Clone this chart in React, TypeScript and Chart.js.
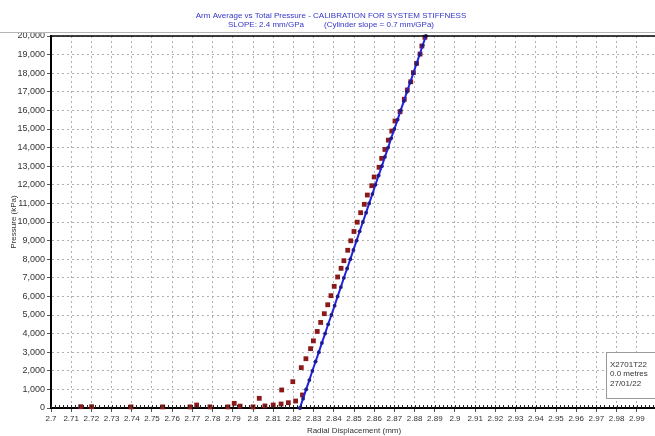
import React, { useEffect, useRef } from "react";
import { Chart, registerables } from "chart.js";

Chart.register(...registerables);

const FONT = "'Liberation Sans', Arial, Helvetica, sans-serif";

const TITLE_LINE_1 = "Arm Average vs Total Pressure - CALIBRATION FOR SYSTEM STIFFNESS";
const TITLE_LINE_2 = "SLOPE: 2.4 mm/GPa         (Cylinder slope = 0.7 mm/GPa)";
const X_TITLE = "Radial Displacement (mm)";
const Y_TITLE = "Pressure (kPa)";
const INFO_LINES = ["X2701T22", "0.0 metres", "27/01/22"];

const X_MIN = 2.7;
const X_MAX = 3.0;
const X_STEP = 0.01;
const Y_MIN = 0;
const Y_MAX = 20000;
const Y_STEP = 1000;

// Measured readings (dark red squares)
const measuredX = [
  2.7147, 2.7201, 2.7396, 2.7553, 2.7688, 2.7721, 2.7787, 2.7876, 2.7907, 2.7936,
  2.8, 2.8031, 2.8059, 2.81, 2.8139, 2.8142, 2.8175, 2.8197, 2.8211, 2.8245,
  2.8239, 2.8262, 2.8285, 2.8299, 2.8318, 2.8335, 2.8353, 2.837, 2.8386, 2.8402,
  2.8419, 2.8436, 2.845, 2.8469, 2.8484, 2.85, 2.8516, 2.8533, 2.8551, 2.8566,
  2.8588, 2.86, 2.8624, 2.8637, 2.8653, 2.867, 2.8687, 2.8703, 2.8728, 2.8749,
  2.8764, 2.8781, 2.8794, 2.881, 2.8827, 2.8836, 2.8851,
];
const measuredP = [
  70, 70, 60, 60, 60, 160, 60, 60, 250, 100,
  60, 520, 110, 160, 215, 970, 285, 1415, 375, 700,
  2170, 2650, 3190, 3610, 4115, 4600, 5070, 5550, 6040, 6540,
  7045, 7510, 7920, 8480, 8990, 9490, 9990, 10500, 10950, 11450,
  11950, 12420, 12940, 13420, 13900, 14400, 14890, 15430, 15930, 16600,
  17100, 17540, 18030, 18530, 19030, 19460, 19930,
];

// Stiffness fit line (blue)
const fitX = [
  2.8232, 2.8248, 2.8263, 2.8279, 2.8294, 2.831, 2.8326, 2.8341, 2.8357, 2.8372,
  2.8388, 2.8404, 2.8419, 2.8435, 2.845, 2.8466, 2.8482, 2.8497, 2.8513, 2.8528,
  2.8544, 2.856, 2.8575, 2.8591, 2.8606, 2.8622, 2.8638, 2.8653, 2.8669, 2.8684,
  2.87, 2.8716, 2.8731, 2.8747, 2.8762, 2.8778, 2.8794, 2.8809, 2.8825, 2.884,
  2.8856,
];
const fitP = [
  0, 500, 1000, 1500, 2000, 2500, 3000, 3500, 4000, 4500,
  5000, 5500, 6000, 6500, 7000, 7500, 8000, 8500, 9000, 9500,
  10000, 10500, 11000, 11500, 12000, 12500, 13000, 13500, 14000, 14500,
  15000, 15500, 16000, 16500, 17000, 17500, 18000, 18500, 19000, 19500,
  20000,
];

const W = 662;
const H = 436;

const decorPlugin = {
  id: "decor",
  afterDraw(chart: any) {
    const { ctx, chartArea: ca, width } = chart;
    const xs = chart.scales.x;
    ctx.save();
    // separator under title
    ctx.strokeStyle = "#b4b4b4";
    ctx.lineWidth = 1;
    ctx.beginPath();
    ctx.moveTo(0, 32.5);
    ctx.lineTo(width, 32.5);
    ctx.stroke();
    // title
    ctx.fillStyle = "#3535c8";
    ctx.font = `8px ${FONT}`;
    ctx.textAlign = "center";
    ctx.textBaseline = "alphabetic";
    ctx.fillText(TITLE_LINE_1, width / 2, 17.5);
    ctx.fillText(TITLE_LINE_2, width / 2, 27);
    // top frame
    ctx.strokeStyle = "#000";
    ctx.lineWidth = 1.5;
    ctx.beginPath();
    ctx.moveTo(ca.left, ca.top);
    ctx.lineTo(ca.right, ca.top);
    ctx.stroke();
    // minor ticks on x axis
    ctx.strokeStyle = "#222";
    ctx.lineWidth = 1;
    ctx.beginPath();
    for (let v = X_MIN; v <= X_MAX + 1e-9; v += 0.002) {
      const px = Math.round(xs.getPixelForValue(v)) + 0.5;
      ctx.moveTo(px, ca.bottom - 3);
      ctx.lineTo(px, ca.bottom);
    }
    ctx.stroke();
    // info box
    const bx = ca.right - 50.5;
    const by = ca.bottom - 55.5;
    const bw = 60;
    const bh = 46;
    ctx.fillStyle = "#fff";
    ctx.fillRect(bx, by, bw, bh);
    ctx.strokeStyle = "#9a9a9a";
    ctx.lineWidth = 1;
    ctx.strokeRect(bx, by, bw, bh);
    ctx.fillStyle = "#333";
    ctx.textAlign = "left";
    ctx.font = `8px ${FONT}`;
    INFO_LINES.forEach((t, i) => {
      ctx.fillText(t, bx + 3.5, by + 14 + i * 9.7);
    });
    ctx.restore();
  },
};

export default function App() {
  const ref = useRef<HTMLCanvasElement>(null);
  useEffect(() => {
    document.body.style.margin = "0";
    document.body.style.overflow = "hidden";
    const canvas = ref.current!;
    Chart.defaults.font.family = FONT;
    Chart.defaults.font.size = 8;
    const chart = new Chart(canvas, {
      type: "scatter",
      data: {
        datasets: [
          {
            type: "line",
            label: "Fit",
            data: fitX.map((x, i) => ({ x, y: fitP[i] })),
            borderColor: "#2222e0",
            borderWidth: 2,
            pointRadius: 1.9,
            pointBackgroundColor: "#1c1c90",
            pointBorderWidth: 0,
            pointStyle: "circle",
            tension: 0,
            showLine: true,
            clip: false,
            order: 0,
          } as any,
          {
            type: "scatter",
            label: "Measured",
            data: measuredX.map((x, i) => ({ x, y: measuredP[i] })),
            pointStyle: "rect",
            pointRadius: 3.4,
            pointBackgroundColor: "#8a1a1a",
            pointBorderColor: "#8a1a1a",
            pointBorderWidth: 0,
            showLine: false,
            clip: false,
            order: 1,
          } as any,
        ],
      },
      options: {
        responsive: false,
        animation: false,
        events: [],
        layout: { padding: { top: 36, right: 5, bottom: 0, left: 0 } },
        plugins: {
          legend: { display: false },
          tooltip: { enabled: false },
          title: { display: false },
        },
        scales: {
          x: {
            type: "linear",
            min: X_MIN,
            max: X_MAX,
            ticks: {
              stepSize: X_STEP,
              autoSkip: false,
              maxRotation: 0,
              minRotation: 0,
              padding: 2,
              color: "#333",
              font: { size: 8, family: FONT },
              callback: (v: any) => String(Math.round(Number(v) * 100) / 100),
            },
            grid: {
              color: "#b0b0b0",
              lineWidth: 1,
              tickLength: 4,
              tickColor: "#555",
              tickWidth: 1,
            },
            border: { display: true, color: "#000", width: 2, dash: [2, 3] },
            title: {
              display: true,
              text: X_TITLE,
              color: "#333",
              font: { size: 8, family: FONT },
              padding: { top: 0, bottom: 0 },
            },
            afterFit: (s: any) => {
              s.height = 28;
            },
          },
          y: {
            type: "linear",
            min: Y_MIN,
            max: Y_MAX,
            ticks: {
              stepSize: Y_STEP,
              autoSkip: false,
              padding: 2,
              color: "#333",
              font: { size: 9, family: FONT },
              callback: (v: any) => Number(v).toLocaleString("en-US"),
            },
            grid: {
              color: "#b0b0b0",
              lineWidth: 1,
              tickLength: 4,
              tickColor: "#555",
              tickWidth: 1,
            },
            border: { display: true, color: "#000", width: 2, dash: [2, 3] },
            title: {
              display: true,
              text: Y_TITLE,
              color: "#333",
              font: { size: 8, family: FONT },
              padding: { top: 8.5, bottom: 0 },
            },
            afterFit: (s: any) => {
              s.width = 51;
            },
          },
        },
      },
      plugins: [decorPlugin],
    });
    return () => chart.destroy();
  }, []);
  return (
    <div style={{ position: "fixed", left: 0, top: 0, width: W, height: H, background: "#fff" }}>
      <canvas ref={ref} width={W} height={H} style={{ width: W, height: H, display: "block" }} />
    </div>
  );
}
